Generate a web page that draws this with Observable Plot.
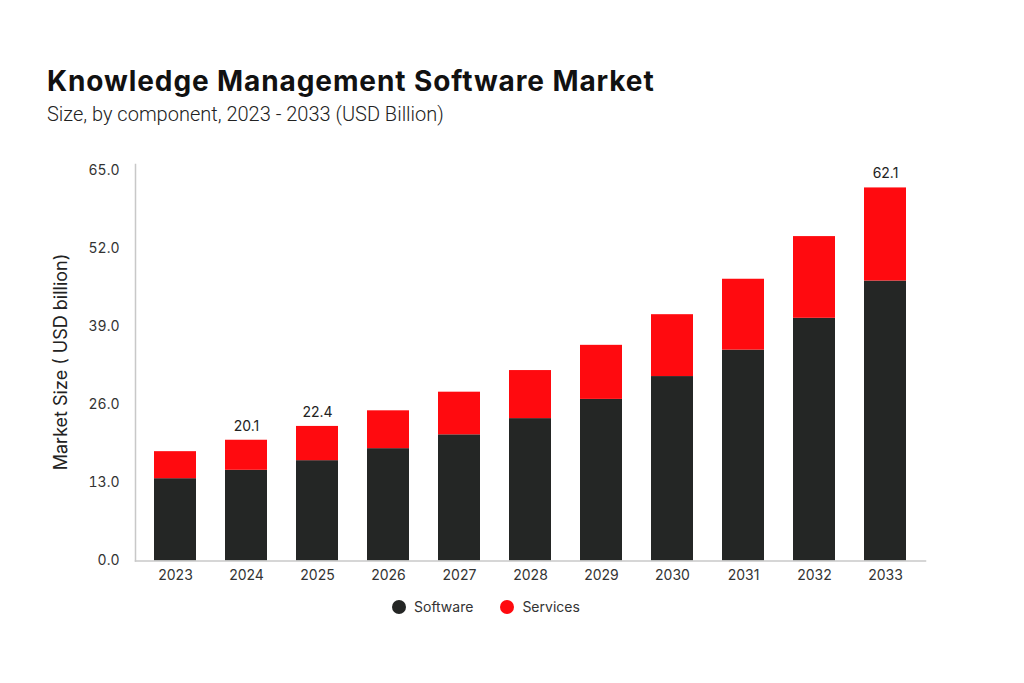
<!DOCTYPE html>
<html>
<head>
<meta charset="utf-8">
<script src="https://cdn.jsdelivr.net/npm/d3@7"></script>
<script src="https://cdn.jsdelivr.net/npm/@observablehq/plot@0.6"></script>
<style>
  html, body { margin: 0; padding: 0; background: #fff; }
  body { width: 1024px; height: 683px; position: relative; overflow: hidden; font-family: Inter, "Noto Sans", sans-serif; color: #111; }
  #title { position: absolute; left: 47px; top: 66.5px; line-height: 1; font-size: 28px; font-weight: 700; color: #111; letter-spacing: 0.9px; white-space: nowrap; }
  #subtitle { position: absolute; left: 47px; top: 104px; line-height: 1; font-family: Roboto, Inter, sans-serif; font-size: 20px; font-weight: 300; color: #222; white-space: nowrap; }
  #chart { position: absolute; left: 0; top: 140px; }
  #ylabel { position: absolute; left: 60px; top: 362px; transform: translate(-50%, -50%) rotate(-90deg); font-size: 18px; color: #222; white-space: nowrap; }
  #legend { position: absolute; top: 598px; left: 392px; display: flex; align-items: center; font-size: 14px; color: #333; }
  .sw { width: 14px; height: 14px; border-radius: 50%; display: inline-block; margin-right: 8px; }
  .item { display: flex; align-items: center; margin-right: 27px; }
</style>
</head>
<body>
<div id="title">Knowledge Management Software Market</div>
<div id="subtitle">Size, by component, 2023 - 2033 (USD Billion)</div>
<div id="ylabel">Market Size ( USD billion)</div>
<div id="chart"></div>
<div id="legend"></div>
<script>
const years = ["2023","2024","2025","2026","2027","2028","2029","2030","2031","2032","2033"];
const software = [13.7, 15.1, 16.7, 18.7, 21.0, 23.7, 26.9, 30.7, 35.1, 40.4, 46.6];
const services = [4.5, 5.0, 5.7, 6.3, 7.1, 8.0, 9.0, 10.3, 11.8, 13.6, 15.5];
const segments = ["Software", "Services"];
const colors = ["#242625", "#ff0a0f"];
const yTicks = [0, 13, 26, 39, 52, 65];
const labelYears = ["2024", "2025", "2033"];
const labelValues = [20.1, 22.4, 62.1];

const rows = [];
years.forEach((y, i) => {
  rows.push({year: y, segment: segments[0], value: software[i]});
  rows.push({year: y, segment: segments[1], value: services[i]});
});
const labels = labelYears.map((y, i) => ({year: y, value: labelValues[i]}));

const chart = Plot.plot({
  width: 1024,
  height: 450,
  marginLeft: 135,
  marginRight: 99,
  marginTop: 24,
  marginBottom: 29.5,
  style: {fontFamily: "Inter, 'Noto Sans', sans-serif", fontSize: "14px", color: "#333", background: "transparent"},
  x: {domain: years, paddingInner: 0.41, paddingOuter: 0.25, label: null, tickSize: 0, tickPadding: 9},
  y: {domain: [0, 66], ticks: yTicks, tickFormat: d => d.toFixed(1), label: null, tickSize: 0, tickPadding: 16},
  color: {domain: segments, range: colors},
  marks: [
    Plot.barY(rows, {x: "year", y: "value", fill: "segment", order: segments}),
    Plot.frame({anchor: "left", stroke: "#c8c8c8", strokeWidth: 1.5}),
    Plot.frame({anchor: "bottom", stroke: "#c8c8c8", strokeWidth: 1.5}),
    Plot.text(labels, {x: "year", y: "value", text: d => d.value.toFixed(1), dy: -14, fill: "#222", fontSize: 14})
  ]
});
document.getElementById("chart").appendChild(chart);

const legend = document.getElementById("legend");
segments.forEach((s, i) => {
  const item = document.createElement("div");
  item.className = "item";
  const sw = document.createElement("span");
  sw.className = "sw";
  sw.style.background = colors[i];
  const t = document.createElement("span");
  t.textContent = s;
  item.appendChild(sw);
  item.appendChild(t);
  legend.appendChild(item);
});
</script>
</body>
</html>
